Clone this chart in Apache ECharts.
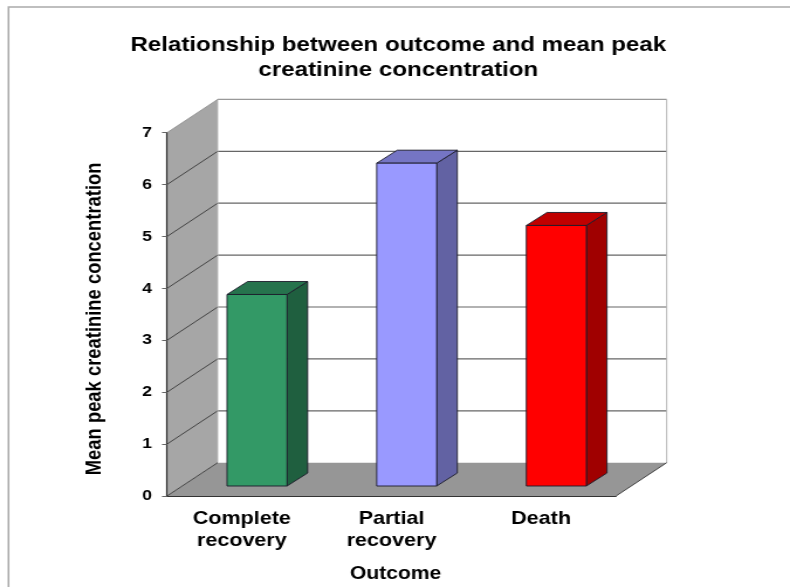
<!DOCTYPE html>
<html>
<head>
<meta charset="utf-8">
<style>
html,body{margin:0;padding:0;background:#fff;overflow:hidden;width:790px;height:587px}
#c{width:675px;height:587px;transform-origin:0 0;transform:scaleX(1.17037)}
</style>
<script src="https://cdn.jsdelivr.net/npm/echarts@6/dist/echarts.min.js"></script>
</head>
<body>
<div id="c"></div>
<script>
const categories = ['Complete\nrecovery', 'Partial\nrecovery', 'Death'];
const values = [3.69, 6.22, 5.02];
const frontColors = ['#339966', '#9999ff', '#ff0000'];
const sideColors = ['#1f5f3f', '#6262a3', '#a00000'];
const topColors = ['#26734d', '#7575c4', '#c00000'];
const titleLines = ['Relationship between outcome and mean peak', 'creatinine concentration'];
const xName = 'Outcome';
const yName = 'Mean peak creatinine concentration';

const S = 790 / 675;           // the picture is stretched horizontally
const px = v => v / S;         // picture x-distance to chart x-distance
const FONT = '"Liberation Sans", Arial, sans-serif';
const WALL_DX = px(50.7), WALL_DY = -33.3;
const BAR_OFF_X = px(15.2), BAR_OFF_Y = -10;
const BAR_HALF = px(30), BAR_DX = px(20.6), BAR_DY = -13;

function poly(points, fill, stroke, lw) {
  return {type: 'polygon', shape: {points}, style: {fill, stroke: stroke || 'none', lineWidth: lw || 0}};
}
function seg(a, b, color, lw) {
  return {type: 'line', shape: {x1: a[0], y1: a[1], x2: b[0], y2: b[1]}, style: {stroke: color, lineWidth: lw, fill: 'none'}};
}

function renderWalls(params, api) {
  const cs = params.coordSys;
  const l = cs.x, r = cs.x + cs.width, t = cs.y, b = cs.y + cs.height;
  const d = (x, y) => [x + WALL_DX, y + WALL_DY];
  const kids = [
    poly([d(l, t), d(r, t), d(r, b), d(l, b)], '#ffffff'),
    poly([[l, t], d(l, t), d(l, b), [l, b]], '#a6a6a6'),
    poly([[l, b], d(l, b), d(r, b), [r, b]], '#969696')
  ];
  for (let v = 1; v <= 6; v++) {
    const y = api.coord([0, v])[1];
    kids.push(seg(d(l, y), d(r, y), '#666666', 1.2));
    kids.push(seg([l, y], d(l, y), '#444444', 1));
  }
  kids.push(seg(d(l, t), d(r, t), '#999999', 1.3));
  kids.push(seg(d(r, t), d(r, b), '#b4b4b4', 1));
  kids.push(seg(d(l, t), d(l, b), '#b8b8b8', 0.8));
  kids.push(seg([l, t], d(l, t), '#888888', 0.8));
  kids.push(seg([l, b], d(l, b), '#444444', 1));
  kids.push(seg([r, b], d(r, b), '#444444', 1));
  return {type: 'group', children: kids};
}

function renderBar(params, api) {
  const i = api.value(0);
  const base = api.coord([i, 0]);
  const top = api.coord([i, api.value(1)]);
  const x0 = base[0] + BAR_OFF_X - BAR_HALF, x1 = base[0] + BAR_OFF_X + BAR_HALF;
  const yb = base[1] + BAR_OFF_Y, yt = top[1] + BAR_OFF_Y;
  const edge = '#1c1c2a';
  return {type: 'group', children: [
    poly([[x1, yb], [x1 + BAR_DX, yb + BAR_DY], [x1 + BAR_DX, yt + BAR_DY], [x1, yt]], sideColors[i], edge, 0.9),
    poly([[x0, yt], [x1, yt], [x1 + BAR_DX, yt + BAR_DY], [x0 + BAR_DX, yt + BAR_DY]], topColors[i], edge, 0.9),
    poly([[x0, yb], [x1, yb], [x1, yt], [x0, yt]], frontColors[i], edge, 0.9)
  ]};
}

const chart = echarts.init(document.getElementById('c'), null, {renderer: 'canvas'});
chart.setOption({
  animation: false,
  backgroundColor: '#ffffff',
  title: {
    text: titleLines.join('\n'),
    left: px(392.5),
    top: 28,
    textAlign: 'center',
    textStyle: {fontFamily: FONT, fontSize: 20.6, fontWeight: 'bold', color: '#000', lineHeight: 25}
  },
  grid: {left: px(167), width: px(449), top: 132.7, bottom: 91, containLabel: false, outerBoundsMode: 'none'},
  xAxis: {
    type: 'category',
    data: categories,
    z: 6,
    name: xName,
    nameLocation: 'middle',
    nameGap: 69,
    nameTextStyle: {fontFamily: FONT, fontSize: 18, fontWeight: 'bold', color: '#000', padding: [0, 0, 0, 7]},
    axisLine: {lineStyle: {color: '#333333', width: 1.2}},
    axisTick: {length: 6, lineStyle: {color: '#888888', width: 1}},
    axisLabel: {fontFamily: FONT, fontSize: 18.4, fontWeight: 'bold', color: '#000', lineHeight: 22, margin: 12}
  },
  yAxis: {
    type: 'value',
    min: 0,
    max: 7,
    interval: 1,
    z: 6,
    name: yName,
    nameLocation: 'middle',
    nameRotate: 90,
    nameGap: px(62),
    nameTextStyle: {fontFamily: FONT, fontSize: 18.4, fontWeight: 'bold', color: '#000', padding: [0, 9, 0, 0]},
    splitLine: {show: false},
    axisLine: {show: true, lineStyle: {color: '#333333', width: 1.2}},
    axisTick: {show: true, length: px(5), lineStyle: {color: '#666666', width: 1}},
    axisLabel: {fontFamily: FONT, fontSize: 15, fontWeight: 'bold', color: '#000', margin: px(15), padding: [2, 0, 0, 0]}
  },
  graphic: [{
    type: 'polyline',
    silent: true,
    shape: {points: [[px(8.5), 587], [px(8.5), 7], [px(790), 7]]},
    style: {stroke: '#aaaaaa', lineWidth: 1.5, fill: 'none'}
  }],
  series: [
    {type: 'custom', z: 1, silent: true, clip: false, renderItem: renderWalls, data: [[0, 0]], encode: {x: 0, y: 1}},
    {type: 'custom', z: 2, silent: true, clip: false, renderItem: renderBar,
      data: values.map((v, i) => [i, v]), encode: {x: 0, y: 1}}
  ]
});
</script>
</body>
</html>
